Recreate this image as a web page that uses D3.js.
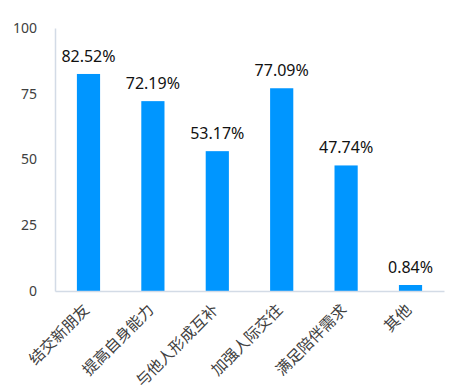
<!DOCTYPE html>
<html>
<head>
<meta charset="utf-8">
<script src="https://cdn.jsdelivr.net/npm/d3@7/dist/d3.min.js"></script>
<style>
  body { margin: 0; background: #fff; }
  text { font-family: "Noto Sans CJK SC", "Noto Sans", sans-serif; }
</style>
</head>
<body>
<script>

  // chart data
  var categories = ["结交新朋友", "提高自身能力", "与他人形成互补", "加强人际交往", "满足陪伴需求", "其他"];
  var values     = [82.52, 72.19, 53.17, 77.09, 47.74, 0.84];
  var yTicks     = [0, 25, 50, 75, 100];

  var width = 453, height = 389;
  var margin = { top: 28, right: 9, bottom: 98, left: 55 };

  var svg = d3.select("body").append("svg")
    .attr("width", width)
    .attr("height", height);

  var x = d3.scaleBand()
    .domain(categories)
    .range([margin.left, width - margin.right])
    .paddingInner(0.64)
    .paddingOuter(0.34);

  var y = d3.scaleLinear()
    .domain([0, 100])
    .range([height - margin.bottom, margin.top]);

  var axisColor = "#d3dbe6";

  // y axis
  var yAxis = svg.append("g")
    .attr("transform", "translate(" + margin.left + ",0)")
    .call(d3.axisLeft(y).tickValues(yTicks).tickSize(0).tickPadding(18));
  yAxis.select(".domain").attr("stroke", axisColor).attr("stroke-width", 1.5);
  yAxis.selectAll("text")
    .style("font-size", "14px")
    .style("font-family", "'Noto Sans', sans-serif")
    .attr("fill", "#404040");

  // bars (very small values get a minimum visible height, as in the original)
  svg.selectAll("rect.bar")
    .data(values)
    .enter().append("rect")
    .attr("class", "bar")
    .attr("x", function(d, i) { return x(categories[i]); })
    .attr("width", x.bandwidth())
    .attr("y", function(d) { return Math.min(y(d), y(0) - 6); })
    .attr("height", function(d) { return Math.max(y(0) - y(d), 6); })
    .attr("fill", "#0096ff");

  // value labels
  svg.selectAll("text.val")
    .data(values)
    .enter().append("text")
    .attr("class", "val")
    .attr("x", function(d, i) { return x(categories[i]) + x.bandwidth() / 2; })
    .attr("y", function(d) { return Math.min(y(d), y(0) - 6) - 12; })
    .attr("text-anchor", "middle")
    .style("font-size", "16px")
    .style("font-family", "'Noto Sans', sans-serif")
    .attr("fill", "#111")
    .text(function(d) { return d.toFixed(2) + "%"; });

  // x axis, labels rotated -45deg
  var xAxis = svg.append("g")
    .attr("transform", "translate(0," + y(0) + ")")
    .call(d3.axisBottom(x).tickSize(0).tickPadding(0));
  xAxis.select(".domain").attr("stroke", axisColor).attr("stroke-width", 1.5);
  xAxis.selectAll("text")
    .style("font-size", "15.5px")
    .style("font-family", "'Noto Sans CJK SC', sans-serif")
    .attr("fill", "#404040")
    .attr("text-anchor", "end")
    .attr("dy", "0.35em")
    .attr("transform", "translate(-2,16) rotate(-45)");

</script>
</body>
</html>
